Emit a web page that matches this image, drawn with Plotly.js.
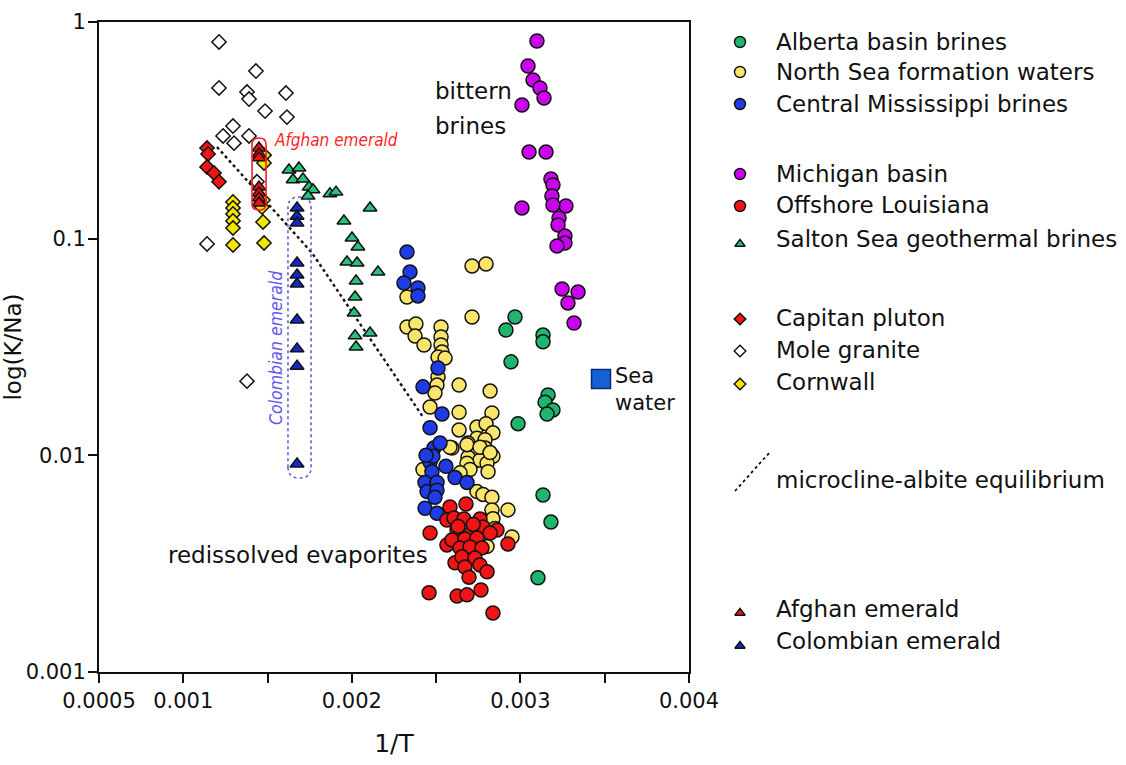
<!DOCTYPE html>
<html><head><meta charset="utf-8">
<script src="https://cdn.plot.ly/plotly-3.0.1.min.js"></script>
<style>html,body{margin:0;padding:0;background:#fff}#chart{width:1126px;height:765px}</style>
</head><body><div id="chart"></div>
<script>
// ---------- data (x = 1/T, y = K/Na) ----------
const albertaX = [0.002968,0.002914,0.003134,0.003134,0.002944,0.003164,0.003146,0.003193,0.003158,0.002986,0.003134,0.003181,0.003104];
const albertaY = [0.0435,0.0379,0.0359,0.0334,0.0270,0.0190,0.0176,0.0162,0.0155,0.0140,0.00656,0.00492,0.00272];

const northSeaX = [0.002327,0.002713,0.002796,0.002713,0.002327,0.00238,0.002375,0.002428,0.002529,0.002529,0.002529,0.002535,0.002511,0.002553,0.002511,0.002636,0.00282,0.002505,0.002493,0.002464,0.002636,0.002831,0.002636,0.002742,0.002796,0.002837,0.002742,0.00279,0.002689,0.00279,0.002837,0.002689,0.00276,0.002594,0.002683,0.002802,0.002808,0.002701,0.002422,0.002642,0.002582,0.002683,0.00276,0.00282,0.002742,0.002778,0.002831,0.002926,0.002831,0.002837,0.00295,0.002802,0.002849];
const northSeaY = [0.0538,0.0748,0.0764,0.0435,0.0391,0.0404,0.0355,0.0323,0.0391,0.0352,0.0323,0.0300,0.0284,0.0281,0.0230,0.0211,0.0198,0.0211,0.0194,0.0167,0.0158,0.0157,0.0131,0.0135,0.0140,0.0127,0.0120,0.0118,0.0114,0.0108,0.0099,0.0098,0.0095,0.0108,0.0092,0.0092,0.0084,0.0086,0.0086,0.0083,0.0109,0.0112,0.0109,0.0103,0.0068,0.0066,0.0064,0.0056,0.0056,0.0051,0.0042,0.0038,0.0046];

const mississippiX = [0.002327,0.002345,0.002309,0.002392,0.002392,0.002511,0.002422,0.002535,0.002464,0.002487,0.002523,0.002464,0.002558,0.002475,0.002612,0.002683,0.002434,0.002505,0.002446,0.002505,0.002493,0.002434,0.002505,0.002481,0.00244];
const mississippiY = [0.0868,0.0702,0.0624,0.0592,0.0544,0.0253,0.0207,0.0155,0.0134,0.0108,0.0114,0.0093,0.0089,0.0084,0.0079,0.0075,0.0075,0.0075,0.0068,0.0069,0.0064,0.0057,0.0054,0.0099,0.0100];

const michiganX = [0.003098,0.003045,0.003075,0.003116,0.00314,0.003009,0.003051,0.003152,0.003181,0.003193,0.003187,0.00327,0.003193,0.003009,0.003229,0.003223,0.003264,0.003264,0.003217,0.003247,0.003342,0.003282,0.003318];
const michiganY = [0.817,0.626,0.540,0.496,0.446,0.414,0.251,0.251,0.1885,0.177,0.1574,0.1416,0.143,0.1386,0.1246,0.1157,0.1028,0.0955,0.0925,0.0586,0.0567,0.0505,0.0408];

const louisianaX = [0.002582,0.002677,0.002564,0.002606,0.002665,0.00276,0.002464,0.002624,0.002713,0.002778,0.002861,0.00282,0.002564,0.002594,0.002671,0.002742,0.002642,0.002701,0.002772,0.002926,0.002612,0.002653,0.00273,0.002671,0.00276,0.002802,0.002695,0.002458,0.002624,0.002683,0.002766,0.002837,0.002630,0.002720];
const louisianaY = [0.00577,0.00596,0.00503,0.00514,0.00508,0.00508,0.00438,0.00452,0.00443,0.00467,0.00452,0.00438,0.00386,0.00407,0.00411,0.00415,0.00374,0.00378,0.00374,0.0039,0.00319,0.0034,0.00336,0.00305,0.00312,0.0029,0.00274,0.00232,0.00224,0.00227,0.00239,0.00187,0.0047,0.0048];

const saltonX = [0.001627,0.001686,0.001651,0.00171,0.001746,0.00177,0.00174,0.00187,0.001906,0.002108,0.001953,0.002001,0.002036,0.001971,0.002031,0.002155,0.002025,0.002019,0.002013,0.002019,0.002108,0.002025];
const saltonY = [0.2075,0.212,0.187,0.1885,0.173,0.168,0.1575,0.161,0.164,0.1386,0.1207,0.1007,0.0915,0.078,0.0772,0.0702,0.0638,0.0538,0.0454,0.0356,0.0367,0.0316];

const capitanX = [0.001141,0.001147,0.001141,0.001182,0.001212];
const capitanY = [0.262,0.246,0.214,0.201,0.183];

const moleX = [0.001212,0.001431,0.001212,0.001378,0.00139,0.001609,0.001485,0.001615,0.001295,0.001236,0.001301,0.00139,0.001437,0.001141,0.001378];
const moleY = [0.809,0.594,0.496,0.475,0.441,0.470,0.388,0.364,0.331,0.298,0.276,0.298,0.183,0.0945,0.0220];

const cornwallX = [0.001295,0.001295,0.001295,0.001295,0.001295,0.001295,0.001473,0.001479,0.001479,0.001479,0.001473,0.001467];
const cornwallY = [0.1477,0.1386,0.130,0.1207,0.112,0.0935,0.1194,0.0955,0.243,0.2236,0.1508,0.140];

const afghanX = [0.001449,0.001449,0.001449,0.001449,0.001449,0.001449,0.001449];
const afghanY = [0.262,0.246,0.236,0.173,0.1625,0.154,0.146];

const colombianX = [0.001675,0.001675,0.001675,0.001675,0.001675,0.001675,0.001675,0.001675,0.001675,0.001675];
const colombianY = [0.1385,0.127,0.118,0.0772,0.068,0.0618,0.0421,0.031,0.0258,0.00912];

const seaWaterX = [0.003478];
const seaWaterY = [0.0225];

const equilibriumX = [0.0012,0.001764,0.002422];
const equilibriumY = [0.265,0.0859,0.01503];

// emerald enclosures: [x0, x1], [y0, y1]
const afghanBoxX = [0.001408,0.001491];
const afghanBoxY = [0.1356,0.2916];
const colombianBoxX = [0.001621,0.001758];
const colombianBoxY = [0.00786,0.1557];

const xTickVals = [0.0005,0.001,0.0015,0.002,0.0025,0.003,0.0035,0.004];
const xTickText = ['0.0005','0.001','','0.002','','0.003','','0.004'];
const yTickVals = [0.001,0.01,0.1,1];
const yTickText = ['0.001','0.01','0.1','1'];

// legend
const legendLabels = ['Alberta basin brines','North Sea formation waters','Central Mississippi brines','Michigan basin','Offshore Louisiana','Salton Sea geothermal brines','Capitan pluton','Mole granite','Cornwall','microcline-albite equilibrium','Afghan emerald','Colombian emerald'];
const legendSymbols = ['circle','circle','circle','circle','circle','triangle-up','diamond','diamond','diamond',null,'triangle-up','triangle-up'];
const legendColors = ['#20b56e','#fae56c','#1e3be6','#cc00f0','#f01414','#27c27a','#f01414','#ffffff','#f2e600',null,'#f01414','#1427c8'];
const legendTextY = [20,50,82,152,183,217,296,328,360,458,587,619];
const legendMarkerY = [20,50,82,152,184,222,297,329,362,null,591,624];

// ---------- build ----------
const OUT = '#111';
function pts(name, x, y, symbol, color, size) {
  return {type:'scatter', mode:'markers', name:name, x:x, y:y, xaxis:'x', yaxis:'y',
    showlegend:false, cliponaxis:false, hoverinfo:'name',
    marker:{symbol:symbol, color:color, size:size, opacity:1, line:{color:OUT, width:1.5}}};
}
const traces = [
  {type:'scatter', mode:'lines', name:'microcline-albite equilibrium', x:equilibriumX, y:equilibriumY,
   line:{color:'#111', width:2.4, dash:'dot'}, showlegend:false},
  pts('North Sea formation waters', northSeaX, northSeaY, 'circle', '#fae56c', 14),
  pts('Central Mississippi brines', mississippiX, mississippiY, 'circle', '#1e3be6', 14),
  pts('Offshore Louisiana', louisianaX, louisianaY, 'circle', '#f01414', 14),
  pts('Alberta basin brines', albertaX, albertaY, 'circle', '#20b56e', 14),
  pts('Michigan basin', michiganX, michiganY, 'circle', '#cc00f0', 14),
  pts('Salton Sea geothermal brines', saltonX, saltonY, 'triangle-up', '#27c27a', 12),
  pts('Mole granite', moleX, moleY, 'diamond', '#ffffff', 11),
  pts('Capitan pluton', capitanX, capitanY, 'diamond', '#f01414', 11),
  pts('Cornwall', cornwallX, cornwallY, 'diamond', '#f2e600', 11),
  pts('Afghan emerald', afghanX, afghanY, 'triangle-up', '#f01414', 12),
  pts('Colombian emerald', colombianX, colombianY, 'triangle-up', '#1427c8', 12),
  {type:'scatter', mode:'markers', name:'Sea water', x:seaWaterX, y:seaWaterY, showlegend:false,
   marker:{symbol:'square', color:'#1560d6', size:19, opacity:1, line:{color:'#0b2a6e', width:1.5}}}
];

// legend markers (second, hidden axis pair)
const lmX = [], lmY = [], lmS = [], lmC = [], lmZ = [];
legendLabels.forEach((l, i) => {
  if (legendSymbols[i]) {
    lmX.push(40); lmY.push(legendMarkerY[i]); lmS.push(legendSymbols[i]); lmC.push(legendColors[i]);
    lmZ.push(legendSymbols[i] === 'circle' ? 11 : 9);
  }
});
traces.push({type:'scatter', mode:'markers', x:lmX, y:lmY, xaxis:'x2', yaxis:'y2', showlegend:false, hoverinfo:'skip',
  marker:{symbol:lmS, color:lmC, size:lmZ, opacity:1, line:{color:OUT, width:1.4}}});
const eqRow = legendLabels.indexOf('microcline-albite equilibrium');
traces.push({type:'scatter', mode:'lines', x:[35,70], y:[legendTextY[eqRow]+11, legendTextY[eqRow]-28],
  xaxis:'x2', yaxis:'y2', showlegend:false, hoverinfo:'skip', line:{color:'#111', width:1.8, dash:'dot'}});

function roundedBox(bx, by, rxFrac, ky) {
  const x0 = bx[0], x1 = bx[1], y0 = by[0], y1 = by[1];
  const rx = (x1 - x0) * rxFrac;
  return `M${x0},${y0*ky} L${x0},${y1/ky} Q${x0},${y1} ${x0+rx},${y1} L${x1-rx},${y1} Q${x1},${y1} ${x1},${y1/ky} ` +
         `L${x1},${y0*ky} Q${x1},${y0} ${x1-rx},${y0} L${x0+rx},${y0} Q${x0},${y0} ${x0},${y0*ky} Z`;
}

const FONT = 'DejaVu Sans, Open Sans, sans-serif';
const NARROW = 'Liberation Sans Narrow, DejaVu Sans Condensed, sans-serif';
const annotations = [
  {xref:'x', yref:'y', x:0.002481, y:-0.3185, text:'bittern', showarrow:false, xanchor:'left', yanchor:'middle', font:{size:23, color:'#111'}},
  {xref:'x', yref:'y', x:0.002481, y:-0.48, text:'brines', showarrow:false, xanchor:'left', yanchor:'middle', font:{size:23, color:'#111'}},
  {xref:'x', yref:'y', x:0.003549, y:-1.694, text:'Sea<br>water', showarrow:false, xanchor:'left', align:'left', yanchor:'middle', font:{size:21, color:'#111'}},
  {xref:'x', yref:'y', x:0.000897, y:-2.46, text:'redissolved evaporites', showarrow:false, xanchor:'left', yanchor:'middle', font:{size:23, color:'#111'}},
  {xref:'x', yref:'y', x:0.001526, y:-0.5446, text:'<i>Afghan emerald</i>', showarrow:false, xanchor:'left', yanchor:'middle', font:{family:NARROW, size:17, color:'#ff1e1e'}},
  {xref:'x', yref:'y', x:0.00155, y:-1.5046, text:'<i>Colombian emerald</i>', showarrow:false, textangle:-90, xanchor:'center', yanchor:'middle', font:{family:NARROW, size:17.5, color:'#6655ee'}}
];
legendLabels.forEach((l, i) => {
  annotations.push({xref:'x2', yref:'y2', x:74, y:legendTextY[i], text:l, showarrow:false, xanchor:'left', yanchor:'middle',
    font:{size:23, color:'#111'}});
});

const layout = {
  width:1126, height:765, paper_bgcolor:'#fff', plot_bgcolor:'#fff',
  margin:{l:99, r:0, t:22, b:93}, showlegend:false, hovermode:'closest',
  font:{family:FONT, color:'#111'},
  xaxis:{domain:[0, 590/1027], range:[0.0005, 0.004], tickvals:xTickVals, ticktext:xTickText,
    ticks:'outside', ticklen:9, tickwidth:2, tickcolor:'#111', showline:true, linewidth:2, linecolor:'#111', mirror:true,
    showgrid:false, zeroline:false, tickfont:{size:21, color:'#111'}, anchor:'y',
    title:{text:'1/T', font:{size:25, color:'#111'}, standoff:22}},
  yaxis:{type:'log', range:[-3, 0], tickvals:yTickVals, ticktext:yTickText,
    ticks:'outside', ticklen:9, tickwidth:2, tickcolor:'#111', showline:true, linewidth:2, linecolor:'#111', mirror:true,
    showgrid:false, zeroline:false, tickfont:{size:21, color:'#111'}, anchor:'x', ticklabelstandoff:-2,
    title:{text:'log(K/Na)', font:{size:23, color:'#111'}, standoff:0}},
  xaxis2:{domain:[601/1027, 1], range:[0, 426], visible:false, anchor:'y2', fixedrange:true},
  yaxis2:{domain:[0, 1], range:[650, 0], visible:false, anchor:'x2', fixedrange:true},
  shapes:[
    {type:'path', xref:'x', yref:'y', path:roundedBox(afghanBoxX, afghanBoxY, 0.5, 1.07), line:{color:'#ff1e1e', width:1.6}},
    {type:'path', xref:'x', yref:'y', path:roundedBox(colombianBoxX, colombianBoxY, 0.5, 1.12), line:{color:'#6a5ae6', width:1.6, dash:'dot'}}
  ],
  annotations:annotations
};
Plotly.newPlot('chart', traces, layout, {displayModeBar:false, staticPlot:true});
</script>
</body></html>
